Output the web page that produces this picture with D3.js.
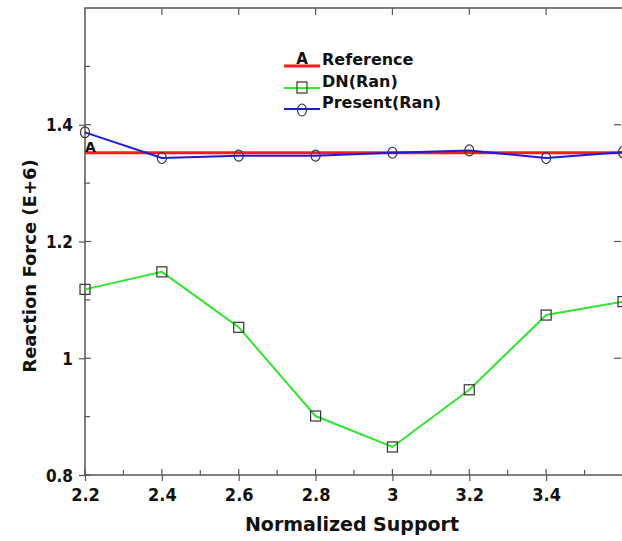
<!DOCTYPE html>
<html lang="en">
  <head>
    <meta charset="utf-8">
    <title>Reaction Force</title>
    <script src="https://d3js.org/d3.v7.min.js"></script>
    <style>
      body { margin: 0; background: #fff; }
      text { font-family: "DejaVu Sans", sans-serif; font-weight: bold; fill: #111; }
      .tick text { font-family: "DejaVu Sans Condensed", "DejaVu Sans", sans-serif; }
    </style>
  </head>
  <body>
    <svg id="chart" width="622" height="541"></svg>

    <script type="text/javascript">
    // data
    var support = [2.2, 2.4, 2.6, 2.8, 3.0, 3.2, 3.4, 3.6];
    var reference = [1.352, 1.352, 1.352, 1.352, 1.352, 1.352, 1.352, 1.352];
    var dnRan = [1.118, 1.148, 1.053, 0.901, 0.848, 0.946, 1.074, 1.097];
    var presentRan = [1.387, 1.343, 1.347, 1.347, 1.352, 1.356, 1.343, 1.353];

    var xMajor = [2.2, 2.4, 2.6, 2.8, 3.0, 3.2, 3.4];
    var xLabels = ["2.2", "2.4", "2.6", "2.8", "3", "3.2", "3.4"];
    var xMinor = [2.3, 2.5, 2.7, 2.9, 3.1, 3.3, 3.5];
    var yMajor = [0.8, 1.0, 1.2, 1.4];
    var yLabels = ["0.8", "1", "1.2", "1.4"];
    var yMinor = [0.9, 1.1, 1.3, 1.5];

    var legendNames = ["Reference", "DN(Ran)", "Present(Ran)"];
    var colors = ["#ff1a1a", "#2ee62e", "#1a1ae0"];

    var svg = d3.select("#chart");

    // plot area (plain names like "top" clash with window globals)
    var pl = 85, pr = 623, pt = 8, pb = 475;

    var x = d3.scaleLinear().domain([2.2, 3.6]).range([pl, pr]);
    var y = d3.scaleLinear().domain([0.8, 1.6]).range([pb, pt]);

    var axisColor = "#555";

    // frame
    svg.append("rect")
      .attr("x", pl).attr("y", pt)
      .attr("width", pr - pl).attr("height", pb - pt)
      .attr("fill", "none")
      .attr("stroke", axisColor)
      .attr("stroke-width", 1.5);

    // bottom axis: labels + outward part of major ticks
    var xAxis = svg.append("g")
      .attr("transform", "translate(0," + pb + ")")
      .call(d3.axisBottom(x).tickValues(xMajor).tickSize(6).tickPadding(7)
        .tickFormat(function(d, i){ return xLabels[i]; }));
    xAxis.select(".domain").remove();
    xAxis.selectAll(".tick text").style("font-size", "18px");

    // left axis
    var yAxis = svg.append("g")
      .attr("transform", "translate(" + pl + ",0)")
      .call(d3.axisLeft(y).tickValues(yMajor).tickSize(6).tickPadding(6)
        .tickFormat(function(d, i){ return yLabels[i]; }));
    yAxis.select(".domain").remove();
    yAxis.selectAll(".tick text").style("font-size", "17px").attr("dy", "0.36em");

    svg.selectAll(".tick line").attr("stroke", axisColor).attr("stroke-width", 1.2);

    // inward ticks on all four sides
    var ticks = svg.append("g").attr("stroke", axisColor).attr("stroke-width", 1.2);
    ticks.selectAll(".xin").data(xMajor.concat(xMinor)).enter().append("line")
      .attr("x1", function(d){ return x(d); }).attr("x2", function(d){ return x(d); })
      .attr("y1", pb).attr("y2", function(d){ return pb - (xMajor.indexOf(d) >= 0 ? 6 : 5); });
    ticks.selectAll(".xtop").data(xMajor.slice(1)).enter().append("line")
      .attr("x1", function(d){ return x(d); }).attr("x2", function(d){ return x(d); })
      .attr("y1", pt).attr("y2", pt + 7);
    ticks.selectAll(".yin").data(yMajor.concat(yMinor)).enter().append("line")
      .attr("y1", function(d){ return y(d); }).attr("y2", function(d){ return y(d); })
      .attr("x1", pl).attr("x2", function(d){ return pl + (yMajor.indexOf(d) >= 0 ? 6 : 5); });
    ticks.selectAll(".yright").data(yMajor.slice(1)).enter().append("line")
      .attr("y1", function(d){ return y(d); }).attr("y2", function(d){ return y(d); })
      .attr("x1", pr - 2).attr("x2", pr - 9);

    // axis titles
    svg.append("text")
      .attr("x", 352).attr("y", 531)
      .attr("text-anchor", "middle")
      .style("font-size", "19px")
      .text("Normalized Support");

    svg.append("text")
      .attr("transform", "translate(36,266) rotate(-90)")
      .attr("text-anchor", "middle")
      .style("font-size", "18px")
      .text("Reaction Force (E+6)");

    // lines
    var line = d3.line()
      .x(function(d){ return x(d[0]); })
      .y(function(d){ return y(d[1]); });

    var series = [reference, dnRan, presentRan];
    var widths = [3, 2, 2];
    series.forEach(function(vals, k){
      svg.append("path")
        .datum(support.map(function(s, i){ return [s, vals[i]]; }))
        .attr("d", line)
        .attr("fill", "none")
        .attr("stroke", colors[k])
        .attr("stroke-width", widths[k]);
    });

    // markers
    svg.selectAll(".sq").data(support).enter().append("rect")
      .attr("x", function(d){ return x(d) - 5; })
      .attr("y", function(d, i){ return y(dnRan[i]) - 5; })
      .attr("width", 10).attr("height", 10)
      .attr("fill", "none").attr("stroke", "#333").attr("stroke-width", 1.2);

    svg.selectAll(".ci").data(support).enter().append("ellipse")
      .attr("cx", function(d){ return x(d); })
      .attr("cy", function(d, i){ return y(presentRan[i]); })
      .attr("rx", 4.5).attr("ry", 5.5)
      .attr("fill", "none").attr("stroke", "#333").attr("stroke-width", 1.2);

    // "A" marker of the reference series
    svg.append("text")
      .attr("x", x(support[0])).attr("y", y(reference[0]) - 1)
      .style("font-size", "14px")
      .text("A");

    // legend
    var lgX = 284, lgY = [66, 88, 109];
    legendNames.forEach(function(name, k){
      svg.append("line")
        .attr("x1", lgX).attr("x2", lgX + 36)
        .attr("y1", lgY[k]).attr("y2", lgY[k])
        .attr("stroke", colors[k]).attr("stroke-width", k === 0 ? 3 : 2);
      svg.append("text")
        .attr("x", lgX + 38).attr("y", lgY[k] - 1)
        .style("font-size", "16px")
        .text(name);
    });
    svg.append("text")
      .attr("x", lgX + 18).attr("y", lgY[0] - 2)
      .attr("text-anchor", "middle")
      .style("font-size", "15px")
      .text("A");
    svg.append("rect")
      .attr("x", lgX + 13).attr("y", lgY[1] - 6)
      .attr("width", 10).attr("height", 11)
      .attr("fill", "none").attr("stroke", "#333").attr("stroke-width", 1.2);
    svg.append("ellipse")
      .attr("cx", lgX + 18).attr("cy", lgY[2] + 1)
      .attr("rx", 4.5).attr("ry", 6)
      .attr("fill", "none").attr("stroke", "#333").attr("stroke-width", 1.2);
    </script>
  </body>
</html>
